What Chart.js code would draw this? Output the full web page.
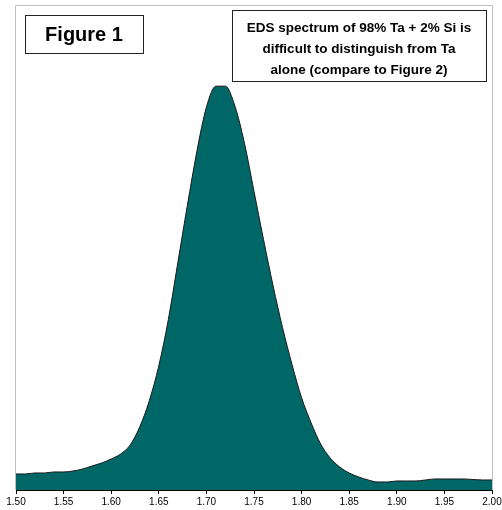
<!DOCTYPE html>
<html>
<head>
<meta charset="utf-8">
<script src="https://cdn.jsdelivr.net/npm/chart.js@4"></script>
<style>
  html, body { margin: 0; padding: 0; background: #fff; }
  #wrap { width: 502px; height: 510px; }
</style>
</head>
<body>
<div id="wrap"><canvas id="chart-eds"></canvas></div>
<script>
  // energy (keV) and counts
  const energy = [
    1.50, 1.51, 1.52, 1.53, 1.54, 1.55, 1.56, 1.57, 1.58, 1.59,
    1.60, 1.61, 1.62, 1.63, 1.64, 1.65, 1.66, 1.67, 1.68, 1.69,
    1.70, 1.71, 1.72, 1.73, 1.74, 1.75, 1.76, 1.77, 1.78, 1.79,
    1.80, 1.81, 1.82, 1.83, 1.84, 1.85, 1.86, 1.87, 1.88, 1.89,
    1.90, 1.91, 1.92, 1.93, 1.94, 1.95, 1.96, 1.97, 1.98, 1.99, 2.00
  ];
  const counts = [
    16, 16, 17, 17, 18, 18, 19, 21, 24, 27,
    31, 36, 45, 63, 89, 124, 170, 227, 284, 338,
    382, 403, 403, 383, 346, 298, 250, 204, 162, 125,
    92, 67, 46, 32, 23, 17, 13, 10, 8, 8,
    9, 9, 9, 10, 11, 11, 11, 11, 10.5, 10, 10
  ];
  const xTicks = [1.50, 1.55, 1.60, 1.65, 1.70, 1.75, 1.80, 1.85, 1.90, 1.95, 2.00];

  const figureLabel = "Figure 1";
  const noteLines = [
    "EDS spectrum of 98% Ta + 2% Si is",
    "difficult to distinguish from Ta",
    "alone (compare to Figure 2)"
  ];

  /* ===== frame + text boxes ===== */
  const boxesPlugin = {
    id: "boxes",
    beforeDatasetsDraw(chart) {
      const { ctx, chartArea: a } = chart;
      ctx.save();
      ctx.strokeStyle = "#c0c0c0";
      ctx.lineWidth = 1;
      ctx.beginPath();
      ctx.moveTo(a.left - 0.5, a.bottom);
      ctx.lineTo(a.left - 0.5, a.top + 0.5);
      ctx.lineTo(a.right + 0.5, a.top + 0.5);
      ctx.lineTo(a.right + 0.5, a.bottom);
      ctx.stroke();
      ctx.restore();
    },
    afterDraw(chart) {
      const { ctx } = chart;
      ctx.save();
      ctx.fillStyle = "#fff";
      ctx.strokeStyle = "#222";
      ctx.lineWidth = 1;

      // Figure 1 box
      ctx.fillRect(25, 15, 118, 38);
      ctx.strokeRect(25.5, 15.5, 118, 38);
      ctx.fillStyle = "#000";
      ctx.font = "bold 20px Arial, 'Liberation Sans', sans-serif";
      ctx.textAlign = "center";
      ctx.textBaseline = "middle";
      ctx.fillText(figureLabel, 84, 35);

      // note box
      ctx.fillStyle = "#fff";
      ctx.fillRect(232, 10, 254, 71);
      ctx.strokeRect(232.5, 10.5, 254, 71);
      ctx.fillStyle = "#000";
      ctx.font = "bold 13.5px Arial, 'Liberation Sans', sans-serif";
      noteLines.forEach((t, i) => ctx.fillText(t, 359, 28 + i * 21));
      ctx.restore();
    }
  };

  const canvas = document.getElementById("chart-eds").getContext("2d");

  new Chart(canvas, {
    type: "line",
    data: {
      datasets: [{
        data: energy.map((e, i) => ({ x: e, y: counts[i] })),
        fill: "origin",
        backgroundColor: "#006666",
        borderColor: "#1a1a1a",
        borderWidth: 1,
        pointRadius: 0,
        cubicInterpolationMode: "monotone"
      }]
    },
    options: {
      responsive: true,
      maintainAspectRatio: false,
      animation: false,
      layout: { padding: { left: 16, right: 0, top: 5, bottom: 0 } },
      plugins: { legend: { display: false }, tooltip: { enabled: false } },
      scales: {
        x: {
          type: "linear",
          min: 1.5,
          max: 2.0,
          afterBuildTicks: (axis) => { axis.ticks = xTicks.map(v => ({ value: v })); },
          afterFit: (axis) => { axis.paddingRight = 10; },
          ticks: {
            autoSkip: false,
            maxRotation: 0,
            color: "#000",
            padding: 2,
            font: { family: "Arial, 'Liberation Sans', sans-serif", size: 10 },
            callback: (v) => Number(v).toFixed(2)
          },
          grid: { drawOnChartArea: false, tickLength: 4, color: "#000" },
          border: { color: "#000", width: 1 }
        },
        y: {
          display: false,
          min: 0,
          max: 484
        }
      }
    },
    plugins: [boxesPlugin]
  });
</script>
</body>
</html>
